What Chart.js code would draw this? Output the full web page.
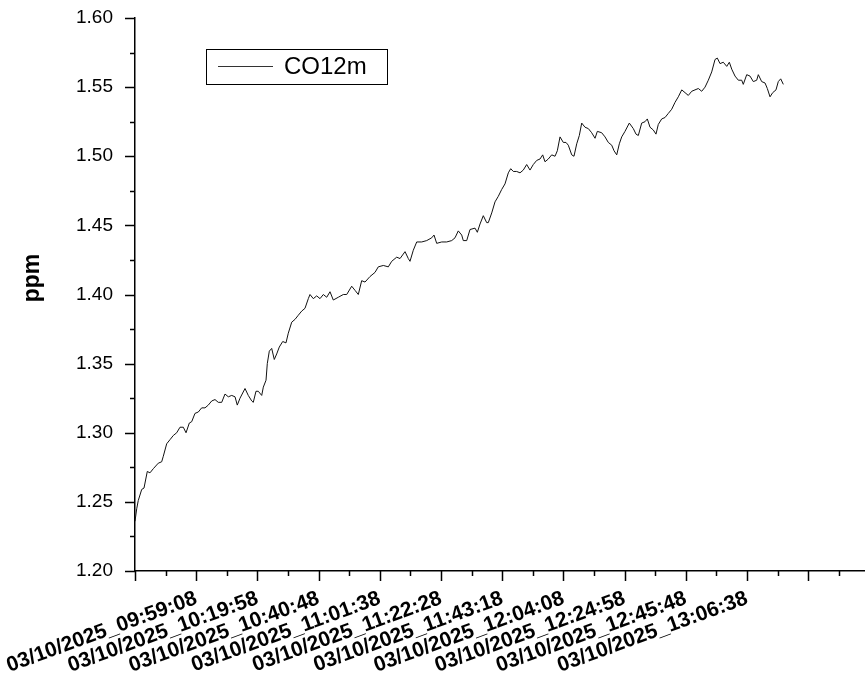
<!DOCTYPE html>
<html>
<head>
<meta charset="utf-8">
<script src="https://cdn.jsdelivr.net/npm/chart.js@4.4.1/dist/chart.umd.min.js"></script>
<style>
    html, body { margin: 0; padding: 0; background: #fff; }
    #wrap { width: 865px; height: 674px; }
</style>
</head>
<body>
<div id="wrap"><canvas id="co12Chart"></canvas></div>
<script>
// elapsed seconds from 09:38:18 (axis origin)
const tSec = [
    0, 35, 67, 137, 184, 251, 306, 374, 476, 545, 578, 647, 715, 782, 852, 919, 987, 1042, 1109, 1158,
    1225, 1293, 1362, 1430, 1497, 1567, 1634, 1701, 1771, 1838, 1906, 1975, 2043, 2089, 2145, 2247, 2314, 2384, 2416, 2471,
    2518, 2588, 2621, 2676, 2702, 2743, 2792, 2845, 2894, 2947, 3017, 3084, 3131, 3201, 3268, 3335, 3405, 3472, 3540, 3574,
    3642, 3711, 3779, 3846, 3916, 3983, 4050, 4152, 4255, 4324, 4426, 4494, 4561, 4630, 4698, 4800, 4902, 4969, 5072, 5174,
    5243, 5345, 5413, 5515, 5582, 5617, 5684, 5754, 5856, 5958, 6060, 6107, 6162, 6264, 6366, 6469, 6536, 6603, 6673, 6705,
    6775, 6842, 6945, 6992, 7047, 7114, 7183, 7216, 7286, 7353, 7420, 7490, 7557, 7625, 7674, 7727, 7796, 7864, 7931, 8000,
    8068, 8135, 8205, 8272, 8327, 8374, 8442, 8511, 8579, 8626, 8681, 8748, 8803, 8850, 8920, 8966, 9022, 9075, 9124, 9191,
    9259, 9328, 9396, 9443, 9532, 9600, 9667, 9737, 9784, 9839, 9892, 9941, 10008, 10096, 10178, 10233, 10280, 10349, 10417, 10464,
    10519, 10586, 10641, 10688, 10758, 10825, 10893, 10962, 11030, 11097, 11167, 11234, 11301, 11371, 11438, 11506, 11575, 11643, 11710, 11779,
    11847, 11894, 11949, 12016, 12086, 12139, 12188, 12255, 12323, 12392, 12424, 12494, 12561, 12629, 12698, 12731, 12800, 12868, 12915, 12970,
    13025, 13092, 13139, 13188, 13242
];

const co12m = [
    1.236, 1.245, 1.251, 1.259, 1.260, 1.272, 1.271, 1.274, 1.278, 1.279, 1.283, 1.292, 1.295, 1.298, 1.300, 1.304, 1.304, 1.300, 1.307, 1.308,
    1.314, 1.315, 1.318, 1.318, 1.320, 1.323, 1.324, 1.322, 1.322, 1.328, 1.326, 1.327, 1.326, 1.320, 1.325, 1.332, 1.327, 1.323, 1.322, 1.330,
    1.330, 1.327, 1.333, 1.338, 1.350, 1.359, 1.361, 1.353, 1.357, 1.362, 1.366, 1.365, 1.372, 1.380, 1.382, 1.385, 1.388, 1.390, 1.397, 1.400,
    1.397, 1.399, 1.397, 1.400, 1.398, 1.402, 1.396, 1.398, 1.400, 1.400, 1.406, 1.403, 1.400, 1.410, 1.409, 1.413, 1.416, 1.420, 1.421, 1.420,
    1.424, 1.427, 1.426, 1.431, 1.426, 1.424, 1.432, 1.438, 1.438, 1.439, 1.441, 1.443, 1.437, 1.438, 1.438, 1.439, 1.441, 1.446, 1.443, 1.439,
    1.439, 1.447, 1.448, 1.445, 1.451, 1.457, 1.452, 1.452, 1.459, 1.467, 1.471, 1.476, 1.480, 1.488, 1.491, 1.489, 1.489, 1.488, 1.490, 1.494,
    1.490, 1.494, 1.497, 1.498, 1.501, 1.496, 1.498, 1.501, 1.500, 1.504, 1.514, 1.510, 1.510, 1.508, 1.501, 1.500, 1.509, 1.515, 1.524, 1.521,
    1.520, 1.517, 1.513, 1.518, 1.517, 1.514, 1.510, 1.508, 1.504, 1.501, 1.509, 1.514, 1.518, 1.524, 1.520, 1.516, 1.515, 1.524, 1.525, 1.527,
    1.521, 1.519, 1.516, 1.523, 1.527, 1.528, 1.531, 1.534, 1.539, 1.543, 1.548, 1.546, 1.544, 1.547, 1.548, 1.549, 1.547, 1.550, 1.555, 1.561,
    1.570, 1.571, 1.567, 1.568, 1.565, 1.568, 1.563, 1.558, 1.555, 1.555, 1.552, 1.559, 1.558, 1.554, 1.555, 1.559, 1.554, 1.553, 1.549, 1.543,
    1.546, 1.548, 1.554, 1.556, 1.552
];

// one label per major tick, major tick k sits at k * 1250 s
const xTickLabels = [
    "03/10/2025_09:59:08", "03/10/2025_10:19:58", "03/10/2025_10:40:48", "03/10/2025_11:01:38", "03/10/2025_11:22:28",
    "03/10/2025_11:43:18", "03/10/2025_12:04:08", "03/10/2025_12:24:58", "03/10/2025_12:45:48", "03/10/2025_13:06:38"
];
const X_MAJOR = 1250;
const X_MAX = 14910;

const Y_MIN = 1.20;
const Y_MAX = 1.60;
const Y_MAJOR = 0.05;

const FONT = "'Liberation Sans', Arial, sans-serif";

let isMultiple = function (v, step) {
    let r = v / step;
    return Math.abs(r - Math.round(r)) < 1e-6;
};

// tick marks (long major, short minor), axis title and the boxed legend
const decorPlugin = {
    id: "decor",
    afterDraw: function (chart) {
        const ctx = chart.ctx;
        const area = chart.chartArea;
        const xs = chart.scales.x;
        const ys = chart.scales.y;

        ctx.save();
        ctx.strokeStyle = "#000";
        ctx.lineWidth = 1.5;
        ctx.beginPath();
        for (const t of xs.ticks) {
            let px = Math.round(xs.getPixelForValue(t.value)) + 0.5;
            let len = isMultiple(t.value, X_MAJOR) ? 10 : 5;
            ctx.moveTo(px, area.bottom);
            ctx.lineTo(px, area.bottom + len);
        }
        for (const t of ys.ticks) {
            let py = Math.round(ys.getPixelForValue(t.value)) + 0.5;
            let len = isMultiple(t.value, Y_MAJOR) ? 10 : 5;
            ctx.moveTo(area.left, py);
            ctx.lineTo(area.left - len, py);
        }
        ctx.stroke();

        // y title
        ctx.fillStyle = "#000";
        ctx.font = "bold 23px " + FONT;
        ctx.translate(33, 278);
        ctx.rotate(-Math.PI / 2);
        ctx.textAlign = "center";
        ctx.textBaseline = "middle";
        ctx.fillText("ppm", 0, 0);
        ctx.restore();

        // legend
        ctx.save();
        ctx.strokeStyle = "#000";
        ctx.lineWidth = 1;
        ctx.strokeRect(206.5, 49.5, 181, 35);
        ctx.strokeStyle = "#333";
        ctx.beginPath();
        ctx.moveTo(218, 66.5);
        ctx.lineTo(273, 66.5);
        ctx.stroke();
        ctx.fillStyle = "#000";
        ctx.font = "24px " + FONT;
        ctx.textBaseline = "middle";
        ctx.fillText(chart.data.datasets[0].label, 284, 67);
        ctx.restore();
    },
};

const co12Config = {
    type: "line",
    data: {
        datasets: [
            {
                label: "CO12m",
                data: tSec.map((t, i) => ({ x: t, y: co12m[i] })),
                borderColor: "#111",
                borderWidth: 1,
                pointRadius: 0,
                tension: 0,
            },
        ],
    },
    options: {
        responsive: true,
        maintainAspectRatio: false,
        animation: false,
        layout: {
            padding: { top: 18, right: 0, left: 0, bottom: 0 },
        },
        plugins: {
            legend: { display: false },
            tooltip: { enabled: false },
        },
        scales: {
            x: {
                type: "linear",
                min: 0,
                max: X_MAX,
                grid: { display: false },
                border: { display: true, color: "#000", width: 1.5 },
                afterBuildTicks: function (scale) {
                    let ticks = [];
                    for (let v = 0; v <= X_MAX; v += X_MAJOR / 2) {
                        ticks.push({ value: v });
                    }
                    scale.ticks = ticks;
                },
                afterFit: function (scale) {
                    scale.height = 103;
                    scale.paddingLeft = 0;
                    scale.paddingRight = 0;
                },
                ticks: {
                    autoSkip: false,
                    minRotation: 20,
                    maxRotation: 20,
                    padding: 7,
                    color: "#000",
                    font: { family: FONT, size: 21, weight: "bold" },
                    callback: function (value) {
                        if (!isMultiple(value, X_MAJOR)) return "";
                        let k = Math.round(value / X_MAJOR);
                        return xTickLabels[k - 1] || "";
                    },
                },
            },
            y: {
                min: Y_MIN,
                max: Y_MAX,
                grid: { display: false },
                border: { display: true, color: "#000", width: 1.5 },
                afterBuildTicks: function (scale) {
                    let ticks = [];
                    for (let i = 0; i <= 16; i++) {
                        ticks.push({ value: +(Y_MIN + i * Y_MAJOR / 2).toFixed(3) });
                    }
                    scale.ticks = ticks;
                },
                afterFit: function (scale) {
                    scale.width = 135;
                    scale.paddingTop = 0;
                    scale.paddingBottom = 0;
                },
                ticks: {
                    padding: 14,
                    color: "#000",
                    font: { family: FONT, size: 19 },
                    callback: function (value) {
                        return isMultiple(value, Y_MAJOR) ? value.toFixed(2) : "";
                    },
                },
            },
        },
    },
    plugins: [decorPlugin],
};

new Chart(document.getElementById("co12Chart"), co12Config);
</script>
</body>
</html>
